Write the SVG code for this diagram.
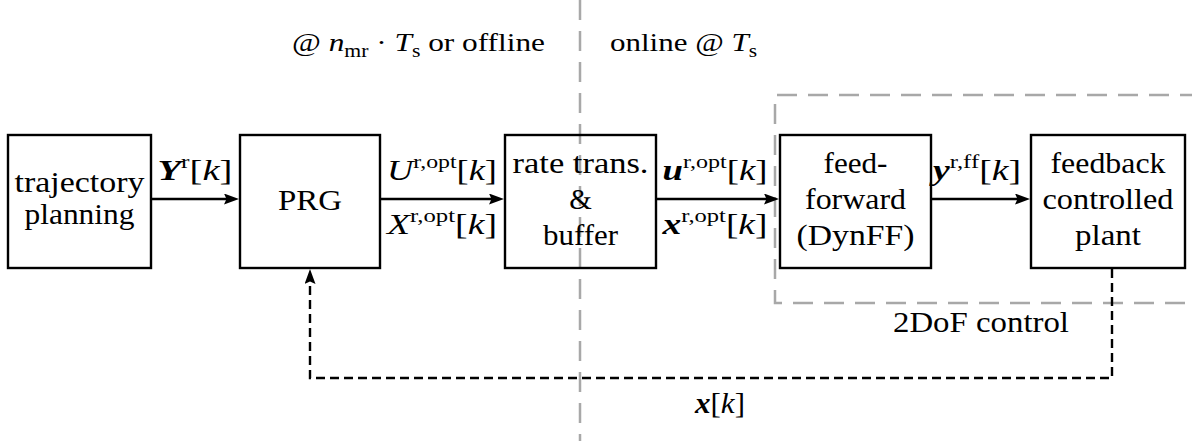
<svg xmlns="http://www.w3.org/2000/svg" width="1192" height="441" viewBox="0 0 1192 441" font-family="'Liberation Serif', serif">
<style>
.box{fill:none;stroke:#000;stroke-width:2.4}
.lbl{font-family:"Liberation Serif",serif;font-size:29px;text-anchor:middle;fill:#000}
.top{font-family:"Liberation Serif",serif;font-size:26px;fill:#000}
.bi{font-weight:bold;font-style:italic}
.it{font-style:italic}
.sup{font-size:19px}
.sub{font-size:18px}
.arrow{stroke:#000;stroke-width:2.4;fill:none;marker-end:url(#ah)}
.dash{stroke-dasharray:9 5}
.gray{stroke:#a8a8a8;stroke-width:2.5;fill:none;stroke-dasharray:20 11}
</style>
<defs>
<marker id="ah" viewBox="0 0 15 11" refX="9" refY="5.5" markerWidth="15" markerHeight="11" markerUnits="userSpaceOnUse" orient="auto">
<path d="M0,0 L15,5.5 L0,11 L2.5,5.5 Z" fill="#000" stroke="none"/>
</marker>
</defs>
<g id="separator">
<line class="gray" x1="580" y1="0" x2="580" y2="441"/>
</g>
<g id="group-2dof">
<path class="gray" d="M1200,95 H775 V303 H1200"/>
<text class="lbl" x="981" y="332" textLength="176" lengthAdjust="spacingAndGlyphs">2DoF control</text>
</g>
<g id="rate-labels">
<text class="top" x="292" y="51" textLength="253" lengthAdjust="spacingAndGlyphs">@ <tspan class="it">n</tspan><tspan class="sub" dy="6">mr</tspan><tspan dy="-6"> · </tspan><tspan class="it">T</tspan><tspan class="sub" dy="6">s</tspan><tspan dy="-6"> or offline</tspan></text>
<text class="top" x="610" y="51" textLength="147" lengthAdjust="spacingAndGlyphs">online @ <tspan class="it">T</tspan><tspan class="sub" dy="6">s</tspan></text>
</g>
<g id="trajectory-planning">
<rect class="box" x="8" y="135" width="143" height="133"/>
<text class="lbl" x="79.5" y="192" textLength="130" lengthAdjust="spacingAndGlyphs">trajectory</text>
<text class="lbl" x="79.5" y="224" textLength="110" lengthAdjust="spacingAndGlyphs">planning</text>
</g>
<g id="prg">
<rect class="box" x="240" y="135" width="140" height="133"/>
<text class="lbl" x="310" y="210" textLength="64" lengthAdjust="spacingAndGlyphs">PRG</text>
</g>
<g id="rate-trans">
<rect class="box" x="505" y="135" width="151" height="133"/>
<text class="lbl" x="580.5" y="173" textLength="136" lengthAdjust="spacingAndGlyphs">rate trans.</text>
<text class="lbl" x="580.5" y="209">&amp;</text>
<text class="lbl" x="580.5" y="245" textLength="75" lengthAdjust="spacingAndGlyphs">buffer</text>
</g>
<g id="feed-forward">
<rect class="box" x="780" y="135" width="151" height="133"/>
<text class="lbl" x="855.5" y="173" textLength="64" lengthAdjust="spacingAndGlyphs">feed-</text>
<text class="lbl" x="855.5" y="209" textLength="101" lengthAdjust="spacingAndGlyphs">forward</text>
<text class="lbl" x="855.5" y="245" textLength="118" lengthAdjust="spacingAndGlyphs">(DynFF)</text>
</g>
<g id="plant">
<rect class="box" x="1031" y="135" width="154" height="133"/>
<text class="lbl" x="1108" y="173" textLength="115" lengthAdjust="spacingAndGlyphs">feedback</text>
<text class="lbl" x="1108" y="209" textLength="131" lengthAdjust="spacingAndGlyphs">controlled</text>
<text class="lbl" x="1108" y="245" textLength="66" lengthAdjust="spacingAndGlyphs">plant</text>
</g>
<g id="connectors">
<path class="arrow" d="M152,199 H233"/>
<path class="arrow" d="M381,199 H498"/>
<path class="arrow" d="M657,199 H773"/>
<path class="arrow" d="M932,199 H1024"/>
<path class="arrow dash" d="M1112,269 V378 H310 V275"/>
<text class="lbl" x="195" y="180" textLength="75" lengthAdjust="spacingAndGlyphs"><tspan class="bi">Y</tspan><tspan class="sup" dy="-12">r</tspan><tspan dy="12">[</tspan><tspan class="it">k</tspan>]</text>
<text class="lbl" x="442" y="180" textLength="110" lengthAdjust="spacingAndGlyphs"><tspan class="it">U</tspan><tspan class="sup" dy="-12">r,opt</tspan><tspan dy="12">[</tspan><tspan class="it">k</tspan>]</text>
<text class="lbl" x="442" y="234" textLength="110" lengthAdjust="spacingAndGlyphs"><tspan class="it">X</tspan><tspan class="sup" dy="-12">r,opt</tspan><tspan dy="12">[</tspan><tspan class="it">k</tspan>]</text>
<text class="lbl" x="715" y="180" textLength="105" lengthAdjust="spacingAndGlyphs"><tspan class="bi">u</tspan><tspan class="sup" dy="-12">r,opt</tspan><tspan dy="12">[</tspan><tspan class="it">k</tspan>]</text>
<text class="lbl" x="715" y="234" textLength="105" lengthAdjust="spacingAndGlyphs"><tspan class="bi">x</tspan><tspan class="sup" dy="-12">r,opt</tspan><tspan dy="12">[</tspan><tspan class="it">k</tspan>]</text>
<text class="lbl" x="977" y="180" textLength="88" lengthAdjust="spacingAndGlyphs"><tspan class="bi">y</tspan><tspan class="sup" dy="-12">r,ff</tspan><tspan dy="12">[</tspan><tspan class="it">k</tspan>]</text>
<text class="lbl" x="720" y="413" textLength="50" lengthAdjust="spacingAndGlyphs"><tspan class="bi">x</tspan>[<tspan class="it">k</tspan>]</text>
</g>
</svg>
